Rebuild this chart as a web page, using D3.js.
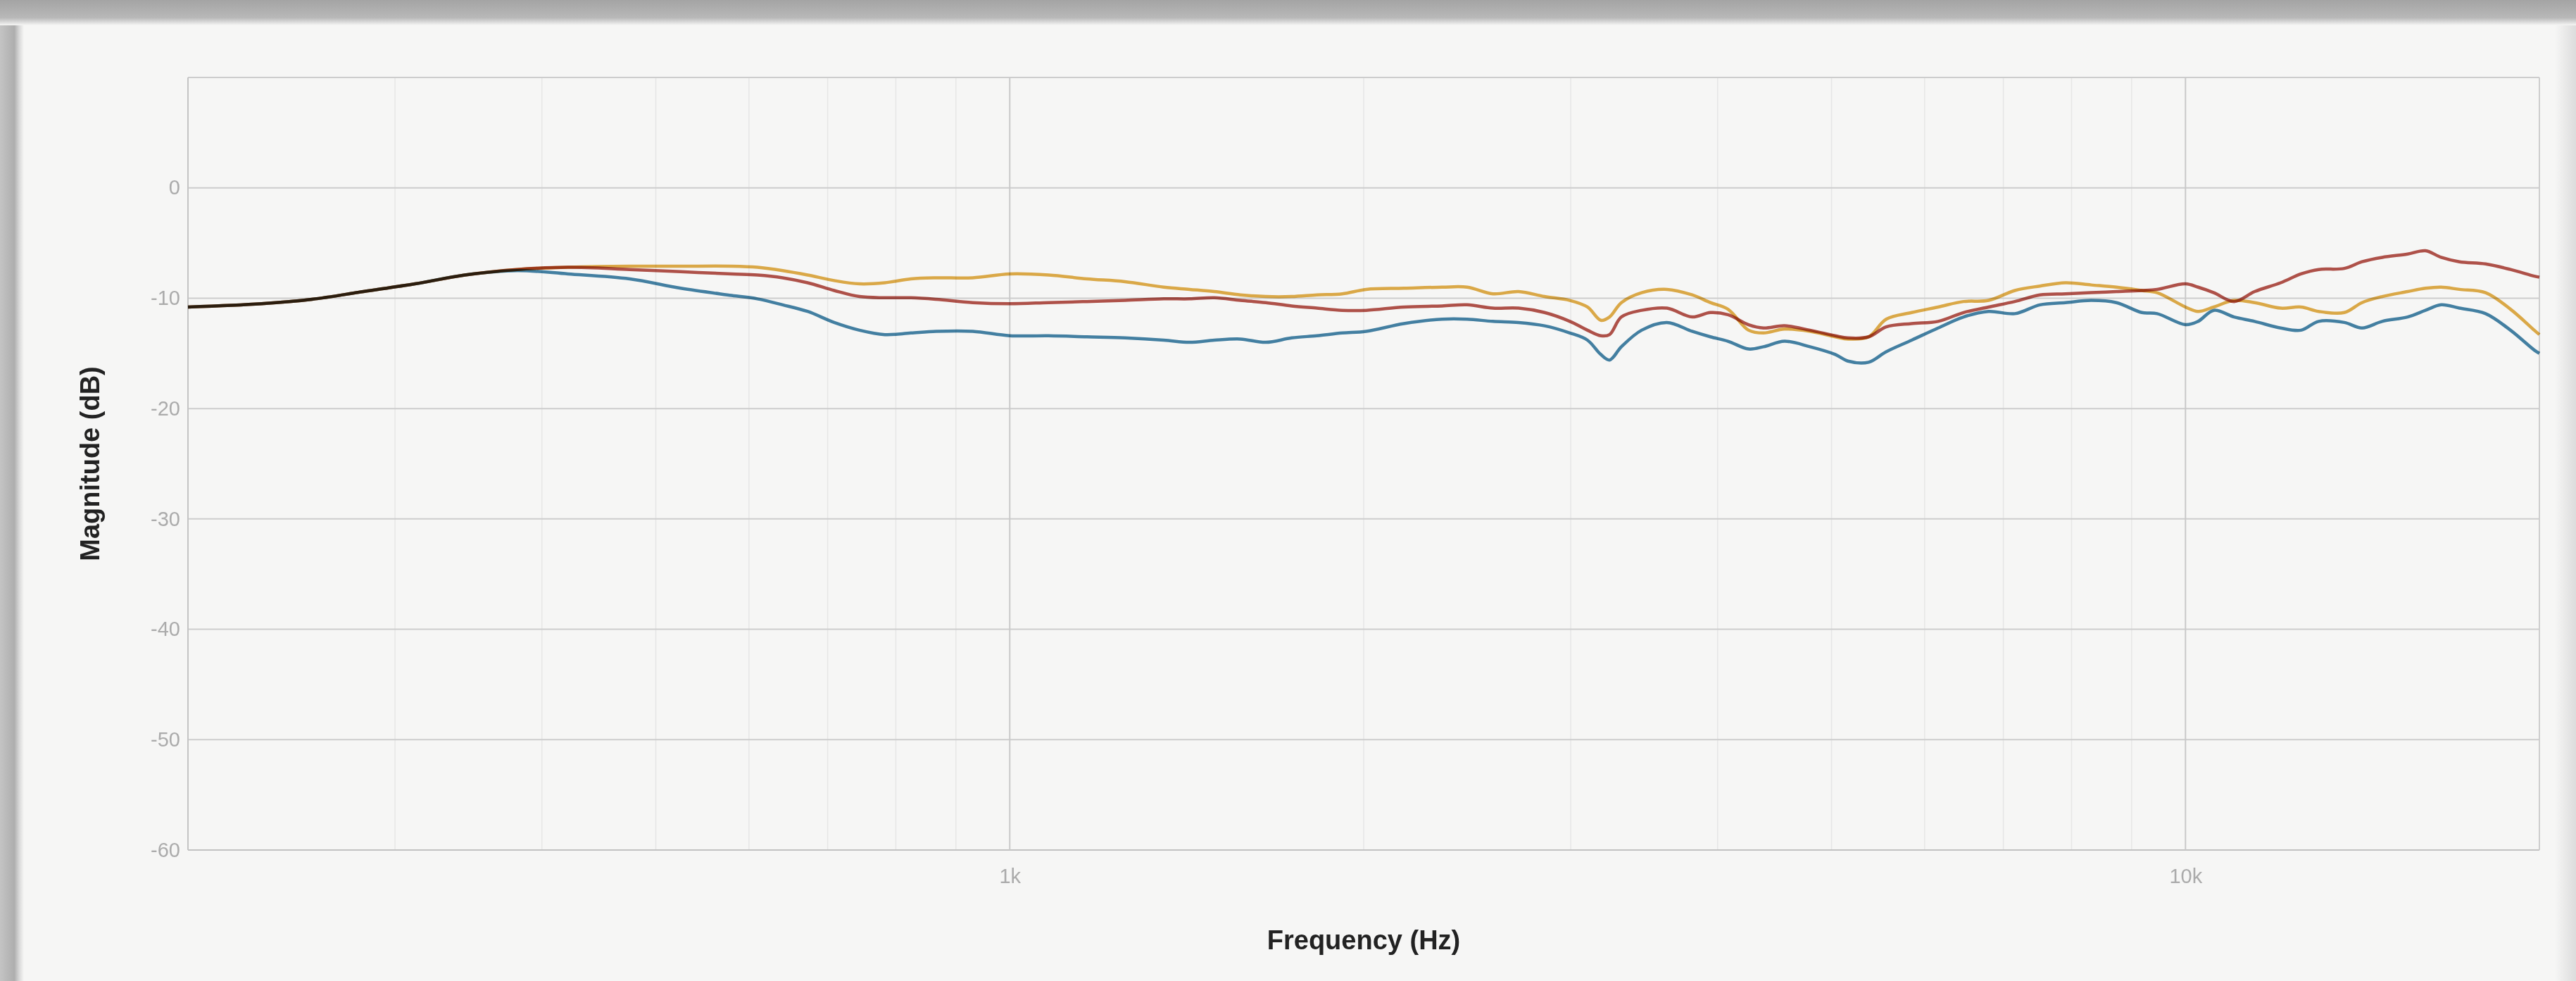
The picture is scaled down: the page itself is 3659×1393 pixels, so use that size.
<!DOCTYPE html>
<html>
<head>
<meta charset="utf-8">
<script src="https://cdn.jsdelivr.net/npm/d3@7"></script>
<style>
  html, body { margin: 0; padding: 0; background: #f6f6f5; }
  svg { display: block; }
</style>
</head>
<body>
<svg id="chart" width="3659" height="1393"></svg>
<script>
// Frequency response of three measurements (Hz vs dB)
const freqs = [200, 231, 255, 282, 312, 344, 381, 421, 475, 525, 580, 610, 641, 673, 709, 745, 783, 824, 866, 930,
  1000, 1079, 1163, 1253, 1352, 1422, 1493, 1571, 1651, 1737, 1825, 1918, 2010, 2164, 2332, 2449, 2576, 2709, 2850, 2995,
  3100, 3182, 3237, 3313, 3447, 3622, 3805, 3944, 4082, 4250, 4376, 4560, 4793, 5037, 5164, 5377, 5565, 5850, 6160, 6475,
  6800, 7160, 7520, 7905, 8315, 8735, 9180, 9460, 10000, 10250, 10570, 11000, 11450, 12050, 12540, 12980, 13650, 14130, 14700, 15450,
  16000, 16500, 17100, 18000, 18900, 19800, 20000];

const blueDb = [-10.8, -10.5, -10.1, -9.4, -8.7, -7.9, -7.5, -7.8, -8.25, -9.1, -9.75, -10.06, -10.6, -11.2, -12.2, -12.9, -13.3, -13.15, -13.0, -13.0,
  -13.4, -13.4, -13.5, -13.6, -13.8, -14.0, -13.8, -13.7, -14.0, -13.6, -13.4, -13.15, -13.0, -12.3, -11.9, -11.9, -12.1, -12.2, -12.5, -13.15,
  -13.8, -15.1, -15.6, -14.4, -12.9, -12.2, -13.0, -13.5, -13.9, -14.6, -14.4, -13.9, -14.4, -15.1, -15.7, -15.8, -14.85, -13.8, -12.7, -11.7,
  -11.2, -11.4, -10.6, -10.4, -10.2, -10.4, -11.3, -11.4, -12.4, -12.1, -11.1, -11.7, -12.1, -12.7, -12.9, -12.1, -12.2, -12.7, -12.1, -11.7,
  -11.1, -10.6, -10.9, -11.4, -12.9, -14.7, -15.0];

const redDb = [-10.8, -10.5, -10.1, -9.4, -8.7, -7.9, -7.4, -7.2, -7.4, -7.6, -7.8, -7.9, -8.15, -8.6, -9.3, -9.85, -9.96, -9.96, -10.1, -10.4,
  -10.5, -10.4, -10.3, -10.2, -10.06, -10.06, -9.96, -10.2, -10.4, -10.7, -10.9, -11.1, -11.1, -10.8, -10.7, -10.6, -10.9, -10.9, -11.3, -12.1,
  -12.9, -13.4, -13.3, -11.7, -11.1, -10.9, -11.7, -11.3, -11.5, -12.4, -12.7, -12.5, -12.9, -13.4, -13.6, -13.5, -12.6, -12.3, -12.1, -11.3,
  -10.8, -10.3, -9.7, -9.6, -9.5, -9.4, -9.3, -9.2, -8.7, -9.0, -9.5, -10.3, -9.4, -8.6, -7.8, -7.4, -7.3, -6.7, -6.3, -6.0,
  -5.7, -6.3, -6.7, -6.9, -7.4, -8.0, -8.1];

const yellowDb = [-10.8, -10.5, -10.1, -9.4, -8.7, -7.9, -7.4, -7.2, -7.1, -7.1, -7.1, -7.2, -7.5, -7.9, -8.4, -8.7, -8.6, -8.25, -8.15, -8.15,
  -7.8, -7.9, -8.25, -8.5, -9.0, -9.2, -9.4, -9.7, -9.85, -9.85, -9.7, -9.6, -9.2, -9.1, -9.0, -9.0, -9.6, -9.4, -9.85, -10.2,
  -10.8, -12.0, -11.7, -10.4, -9.5, -9.2, -9.7, -10.4, -11.0, -12.9, -13.15, -12.8, -13.0, -13.5, -13.7, -13.5, -11.9, -11.3, -10.8, -10.3,
  -10.2, -9.3, -8.9, -8.6, -8.8, -9.0, -9.3, -9.5, -10.8, -11.2, -10.8, -10.2, -10.4, -10.9, -10.8, -11.2, -11.3, -10.4, -9.85, -9.4,
  -9.1, -9.0, -9.2, -9.5, -11.0, -12.9, -13.3];

const seriesNames = ["blue", "red", "yellow"];
const seriesValues = [blueDb, redDb, yellowDb];
const seriesColors = ["#4584a8", "#b5544c", "#e2ae4a"];

const yTickValues = [0, -10, -20, -30, -40, -50, -60];
const yGridValues = [10, 0, -10, -20, -30, -40, -50, -60];
const xTickValues = [1000, 10000];
const xTickLabels = ["1k", "10k"];
const xMinorGrid = [300, 400, 500, 600, 700, 800, 900, 2000, 3000, 4000, 5000, 6000, 7000, 8000, 9000];

const W = 3659, H = 1393;
const plot = { left: 267, right: 3607, top: 110, bottom: 1207 };

const svg = d3.select("#chart");

// paper background with shaded scan edges
const defs = svg.append("defs");
const gTop = defs.append("linearGradient").attr("id", "edgeTop").attr("x1", 0).attr("y1", 0).attr("x2", 0).attr("y2", 1);
gTop.append("stop").attr("offset", "0%").attr("stop-color", "#a4a4a4");
gTop.append("stop").attr("offset", "70%").attr("stop-color", "#b8b8b8");
gTop.append("stop").attr("offset", "85%").attr("stop-color", "#d6d6d6");
gTop.append("stop").attr("offset", "100%").attr("stop-color", "#f6f6f5");
const gLeft = defs.append("linearGradient").attr("id", "edgeLeft").attr("x1", 0).attr("y1", 0).attr("x2", 1).attr("y2", 0);
gLeft.append("stop").attr("offset", "0%").attr("stop-color", "#c4c4c4");
gLeft.append("stop").attr("offset", "60%").attr("stop-color", "#aeaeae");
gLeft.append("stop").attr("offset", "80%").attr("stop-color", "#d8d8d8");
gLeft.append("stop").attr("offset", "100%").attr("stop-color", "#f6f6f5");
const gRight = defs.append("linearGradient").attr("id", "edgeRight").attr("x1", 0).attr("y1", 0).attr("x2", 1).attr("y2", 0);
gRight.append("stop").attr("offset", "0%").attr("stop-color", "#f6f6f5");
gRight.append("stop").attr("offset", "100%").attr("stop-color", "#dcdcdc");

svg.append("rect").attr("width", W).attr("height", H).attr("fill", "#f6f6f5");
svg.append("rect").attr("x", W - 30).attr("y", 0).attr("width", 30).attr("height", H).attr("fill", "url(#edgeRight)");
svg.append("rect").attr("x", 0).attr("y", 0).attr("width", 34).attr("height", H).attr("fill", "url(#edgeLeft)");
svg.append("rect").attr("x", 0).attr("y", 0).attr("width", W).attr("height", 36).attr("fill", "url(#edgeTop)");

const x = d3.scaleLog().domain([200, 20000]).range([plot.left, plot.right]);
const y = d3.scaleLinear().domain([-60, 10]).range([plot.bottom, plot.top]);

const grid = svg.append("g").attr("class", "grid");

// minor vertical grid
grid.selectAll("line.minor").data(xMinorGrid).join("line")
  .attr("class", "minor")
  .attr("x1", d => x(d)).attr("x2", d => x(d))
  .attr("y1", plot.top).attr("y2", plot.bottom)
  .attr("stroke", "#e6e6e6").attr("stroke-width", 1.5);

// horizontal grid every 10 dB
grid.selectAll("line.h").data(yGridValues).join("line")
  .attr("class", "h")
  .attr("x1", plot.left).attr("x2", plot.right)
  .attr("y1", d => y(d)).attr("y2", d => y(d))
  .attr("stroke", d => d === -60 ? "#c2c2c2" : "#cdcdcd").attr("stroke-width", 2);

// major vertical grid at decades
grid.selectAll("line.major").data(xTickValues).join("line")
  .attr("class", "major")
  .attr("x1", d => x(d)).attr("x2", d => x(d))
  .attr("y1", plot.top).attr("y2", plot.bottom)
  .attr("stroke", "#c9c9c9").attr("stroke-width", 2);

// frame sides
grid.append("line").attr("x1", plot.left).attr("x2", plot.left).attr("y1", plot.top).attr("y2", plot.bottom)
  .attr("stroke", "#c4c4c4").attr("stroke-width", 2);
grid.append("line").attr("x1", plot.right).attr("x2", plot.right).attr("y1", plot.top).attr("y2", plot.bottom)
  .attr("stroke", "#cdcdcd").attr("stroke-width", 2);

// y axis labels (plain hyphen for negatives)
const yAxis = d3.axisLeft(y).tickValues(yTickValues).tickSize(0).tickPadding(11).tickFormat(d => String(d));
const yAxisG = svg.append("g").attr("transform", `translate(${plot.left},0)`).call(yAxis);
yAxisG.select(".domain").remove();
yAxisG.selectAll("text")
  .attr("font-family", "'Liberation Sans', Arial, Helvetica, sans-serif")
  .attr("font-size", 29).attr("fill", "#ababab");

// x axis labels
const xAxis = d3.axisBottom(x).tickValues(xTickValues).tickSize(0).tickPadding(26)
  .tickFormat((d, i) => xTickLabels[i]);
const xAxisG = svg.append("g").attr("transform", `translate(0,${plot.bottom})`).call(xAxis);
xAxisG.select(".domain").remove();
xAxisG.selectAll("text")
  .attr("font-family", "'Liberation Sans', Arial, Helvetica, sans-serif")
  .attr("font-size", 29).attr("fill", "#ababab");

// axis titles
svg.append("text")
  .attr("x", (plot.left + plot.right) / 2).attr("y", 1348)
  .attr("text-anchor", "middle")
  .attr("font-family", "'Liberation Sans', Arial, Helvetica, sans-serif")
  .attr("font-size", 38).attr("font-weight", "bold").attr("fill", "#222")
  .text("Frequency (Hz)");

svg.append("text")
  .attr("transform", `translate(141,${(plot.top + plot.bottom) / 2}) rotate(-90)`)
  .attr("text-anchor", "middle")
  .attr("font-family", "'Liberation Sans', Arial, Helvetica, sans-serif")
  .attr("font-size", 38).attr("font-weight", "bold").attr("fill", "#222")
  .text("Magnitude (dB)");

// response curves
const line = d3.line()
  .x(d => x(d[0]))
  .y(d => y(d[1]))
  .curve(d3.curveCatmullRom.alpha(0.5));

const curves = svg.append("g").attr("class", "curves");
seriesValues.forEach((vals, i) => {
  curves.append("path")
    .attr("class", "series-" + seriesNames[i])
    .datum(freqs.map((f, k) => [f, vals[k]]))
    .attr("d", line)
    .attr("fill", "none")
    .attr("stroke", seriesColors[i])
    .attr("stroke-width", 4.5)
    .attr("stroke-linejoin", "round")
    .style("mix-blend-mode", "multiply");
});
</script>
</body>
</html>
